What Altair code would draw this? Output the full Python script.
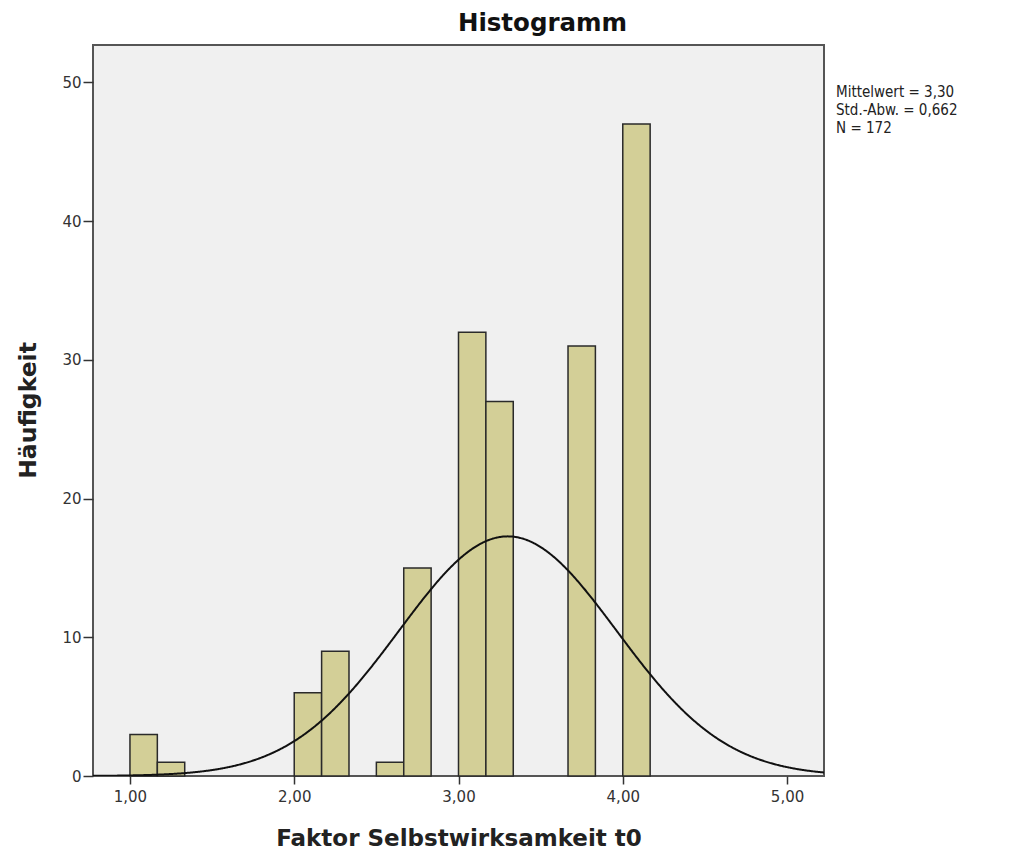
import altair as alt
import pandas as pd

# ---- data ----
bin_starts = [1.0, 1.1667, 2.0, 2.1667, 2.5, 2.6667, 3.0, 3.1667, 3.6667, 4.0]
counts = [3, 1, 6, 9, 1, 15, 32, 27, 31, 47]
bin_width = 1 / 6
mean_val = 3.30
sd_val = 0.662
n_val = 172
x_ticks = [1, 2, 3, 4, 5]
y_ticks = [0, 10, 20, 30, 40, 50]
x_domain = [0.775, 5.225]
y_domain = [0, 52.7]
stats_lines = ["Mittelwert = 3,30", "Std.-Abw. = 0,662", "N = 172"]

bars_df = pd.DataFrame({
    "start": bin_starts,
    "end": [b + bin_width for b in bin_starts],
    "count": counts,
})

BAR = "#d3cf97"
BG = "#f0f0f0"
INK = "#333333"
COND = "'DejaVu Sans Condensed', 'Roboto Condensed', 'Liberation Sans Narrow', 'DejaVu Sans', sans-serif"

xscale = alt.Scale(domain=x_domain, nice=False, zero=False)
yscale = alt.Scale(domain=y_domain, nice=False)

x_axis = alt.Axis(
    values=x_ticks,
    labelExpr="replace(format(datum.value, '.2f'), '.', ',')",
    title="Faktor Selbstwirksamkeit t0",
    titleFont="DejaVu Sans", titleFontSize=23, titleFontWeight="bold",
    titleColor="#222222", titleX=365.5, titleY=69, titleBaseline="alphabetic",
    titleAlign="center",
    labelFont="DejaVu Sans", labelFontSize=15, labelColor=INK, labelPadding=5,
    tickSize=8, tickColor=INK, tickWidth=1.5, domain=False, grid=False,
)
y_axis = alt.Axis(
    values=y_ticks, format="d",
    title="Häufigkeit",
    titleFont="DejaVu Sans", titleFontSize=23.5, titleFontWeight="bold",
    titleColor="#222222", titleX=-65, titleY=365, titleBaseline="middle",
    titleAlign="center", titleAngle=-90,
    labelFont="DejaVu Sans", labelFontSize=15, labelColor=INK, labelPadding=2,
    tickSize=10, tickColor=INK, tickWidth=1.5, domain=False, grid=False,
)

bars = alt.Chart(bars_df).mark_rect(
    fill=BAR, stroke="#2a2a2a", strokeWidth=1.5
).encode(
    x=alt.X("start:Q", scale=xscale, axis=x_axis),
    x2="end:Q",
    y=alt.Y("count:Q", scale=yscale, axis=y_axis),
    y2=alt.datum(0),
)

curve = alt.Chart(alt.sequence(start=x_domain[0], stop=x_domain[1] + 0.005, step=0.005, as_="xv")).transform_calculate(
    yv=f"{n_val} * {bin_width} * densityNormal(datum.xv, {mean_val}, {sd_val})"
).mark_line(color="#111111", strokeWidth=2, clip=True).encode(
    x=alt.X("xv:Q", scale=xscale),
    y=alt.Y("yv:Q", scale=yscale),
)

stats = alt.Chart(pd.DataFrame({"t": ["\n".join(stats_lines)]})).mark_text(
    align="left", baseline="middle", font=COND, fontSize=15,
    color="#222222", lineBreak="\n", lineHeight=18,
).encode(
    x=alt.value(743), y=alt.value(47), text="t:N"
)

chart = alt.layer(bars, curve, stats).properties(
    width=731, height=731,
    background="white",
    title=alt.TitleParams(
        "Histogramm", font="DejaVu Sans", fontSize=24.5, fontWeight="bold",
        color="#111111", anchor="middle", dx=84, offset=9,
    ),
    autosize=alt.AutoSizeParams(type="none"),
    padding={"left": 85, "top": 37, "right": 150, "bottom": 76},
).configure_view(
    fill=BG, stroke="#555555", strokeWidth=2,
)

chart.save("out.html", embed_options={"renderer": "svg", "actions": False})
